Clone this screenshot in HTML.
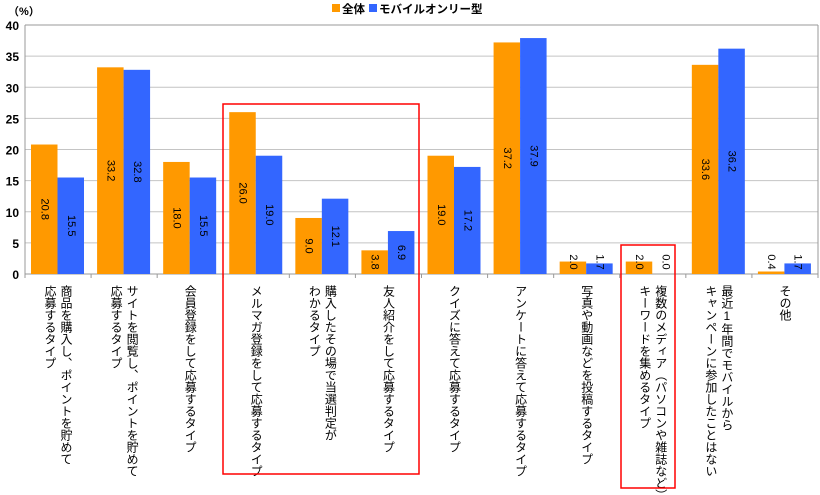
<!DOCTYPE html>
<html><head><meta charset="utf-8">
<style>
body{margin:0;background:#fff;}
svg{display:block;font-family:"Liberation Sans","Noto Sans CJK JP",sans-serif;}
</style></head>
<body>
<svg id="chart" width="820" height="495">
<text x="8" y="15" font-size="11" font-weight="bold" fill="#000">（%）</text>
<g>
<rect x="332" y="4" width="8" height="8" fill="#ff9900"/>
<text x="342" y="13" font-size="11.5" font-weight="bold">全体</text>
<rect x="369" y="4" width="8" height="8" fill="#3366ff"/>
<text x="379" y="13" font-size="11.5" font-weight="bold">モバイルオンリー型</text>
</g>
<g id="grid"></g><g id="bars"></g><g id="labels"></g>
<rect x="223" y="104" width="196" height="370" fill="none" stroke="#ff0000" stroke-width="1.5"/>
<rect x="621" y="245" width="54" height="243" fill="none" stroke="#ff0000" stroke-width="1.5"/>
</svg>
<script>
const categories=[["商品を購入し、ポイントを貯めて","応募するタイプ"],["サイトを閲覧し、ポイントを貯めて","応募するタイプ"],["会員登録をして応募するタイプ"],["メルマガ登録をして応募するタイプ"],["購入したその場で当選判定が","わかるタイプ"],["友人紹介をして応募するタイプ"],["クイズに答えて応募するタイプ"],["アンケートに答えて応募するタイプ"],["写真や動画などを投稿するタイプ"],["複数のメディア（パソコンや雑誌など）で","キーワードを集めるタイプ"],["最近1年間でモバイルから","キャンペーンに参加したことはない"],["その他"]];
const seriesAll=[20.8,33.2,18.0,26.0,9.0,3.8,19.0,37.2,2.0,2.0,33.6,0.4];
const seriesMobile=[15.5,32.8,15.5,19.0,12.1,6.9,17.2,37.9,1.7,0.0,36.2,1.7];
const yTicks=[0,5,10,15,20,25,30,35,40];
const NS="http://www.w3.org/2000/svg";
const L=25,R=818,T=25,B=274,YMAX=40;
const y=v=>B-(v/YMAX)*(B-T);
const gw=(R-L)/categories.length;
const x=i=>L+i*gw;
function mk(tag,attrs,parent,txt){const e=document.createElementNS(NS,tag);for(const k in attrs)e.setAttribute(k,attrs[k]);if(txt!==undefined)e.textContent=txt;parent.appendChild(e);return e;}
const grid=document.getElementById('grid'),bars=document.getElementById('bars'),labels=document.getElementById('labels');
yTicks.forEach(t=>{
 const l=mk('line',{x1:L,x2:R,y1:y(t),y2:y(t),stroke:t===0||t===YMAX?'#999':'#c4c4c4','stroke-width':1},grid);
 
 
 const tx=mk('text',{x:L-6,y:y(t)+5,'font-size':12,'font-weight':'bold','text-anchor':'end'},grid,String(t));
 
 
});
const ax=mk('line',{x1:L,x2:L,y1:T,y2:B,stroke:'#999'},grid);


const ax2=mk('line',{x1:R,x2:R,y1:T,y2:B,stroke:'#999'},grid);


for(let i=0;i<=categories.length;i++){
 const tk=mk('line',{x1:x(i),x2:x(i),y1:B,y2:B+4,stroke:'#999'},grid);
 
 
}
const bw=26.5;
categories.forEach((c,i)=>{
 [[seriesAll,'#ff9900','all',0],[seriesMobile,'#3366ff','mobile',1]].forEach(([s,col,nm,k])=>{
  const v=s[i];const bx=x(i)+6+k*bw;
  const r=mk('rect',{x:bx,y:y(v),width:bw,height:B-y(v),fill:col},bars);
  
  
  const cx=bx+bw/2;
  const lbl=v.toFixed(1);
  const cy=Math.min((y(v)+B)/2,B-12);
  const t=mk('text',{x:cx,y:cy,'font-size':11,'text-anchor':'middle','dominant-baseline':'central',transform:`rotate(90 ${cx} ${cy})`},labels,lbl);
  
  
 });
 const cx=x(i)+gw/2;
 const n=c.length;const sp=16;
 c.forEach((line,j)=>{
  const lx=cx+((n-1)/2-j)*sp;
  const t=mk('text',{x:lx,y:285,'font-size':12,style:'writing-mode:vertical-rl;text-orientation:upright','text-anchor':'start'},labels,line);
  
  
 });
});
</script>
</body></html>
